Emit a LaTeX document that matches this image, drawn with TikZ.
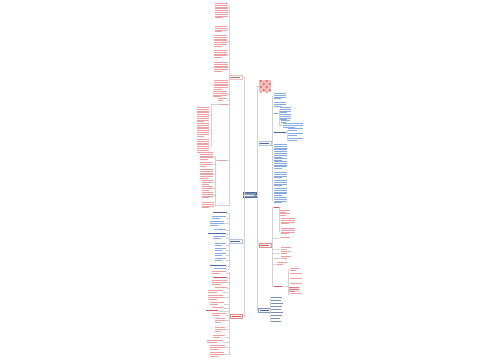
\documentclass[tikz,border=0pt]{standalone}
\usepackage{tikz}
\usetikzlibrary{positioning,patterns}
\definecolor{mmpink}{RGB}{238,160,160}
\definecolor{mmred}{RGB}{205,90,95}
\definecolor{mmblue}{RGB}{135,172,225}
\definecolor{mmdark}{RGB}{75,105,160}
\definecolor{mmroot}{RGB}{120,150,190}

% one block of tiny text lines: x, ytop, width, lines, colour
\newcommand{\mmtext}[5]{%
  \foreach \k in {1,...,#4}{%
    \pgfmathsetmacro{\lw}{(\k==#4 && #4>1) ? 0.6*#3 : #3}%
    \fill[#5] (#1,{#2+(\k-1)*1.8}) rectangle ++(\lw,0.65);
  }}

\begin{document}
\begin{tikzpicture}[x=0.5pt,y=-0.5pt,
    link/.style={gray!35,line width=0.22pt},
    rootbox/.style={fill=mmroot,draw=mmroot!70!black,line width=0.2pt,
      minimum width=6.5pt,minimum height=2.4pt,inner sep=0pt},
    branchbox/.style={fill=#1!8,draw=#1!70,line width=0.2pt,
      minimum width=6pt,minimum height=2pt,inner sep=0pt}]
    \useasboundingbox[fill=white] (0,0) rectangle (500,360);

    % Root and main branches
    \node[rootbox] (root) at (249.5,195) {\textcolor{white}{\rule{5pt}{0.4pt}}};
    \node[branchbox=mmpink] (bL1) at (236,77) {\textcolor{gray}{\rule{4.5pt}{0.35pt}}};
    \node[branchbox=mmblue] (bL2) at (236,241) {\textcolor{mmdark}{\rule{4.5pt}{0.35pt}}};
    \node[branchbox=mmred] (bL3) at (236.5,316) {\textcolor{mmred}{\rule{4.5pt}{0.35pt}}};
    \node[branchbox=mmblue] (bR1) at (265,143) {\textcolor{mmdark}{\rule{4.5pt}{0.35pt}}};
    \node[branchbox=mmred] (bR2) at (265,245) {\textcolor{mmred}{\rule{4.5pt}{0.35pt}}};
    \node[branchbox=mmdark] (bR3) at (264.5,310) {\textcolor{mmdark}{\rule{4.5pt}{0.35pt}}};
    \node[fill=mmpink!70,minimum width=6pt,minimum height=6pt,inner sep=0pt] (img) at (265,86) {};
    \fill[pattern=crosshatch dots,pattern color=mmred] (img.south west) rectangle (img.north east);

    % Trunks
    \coordinate (tl) at (244.5,195);
    \coordinate (tr) at (257.5,195);
    \draw[link] (root.west) -- (tl);
    \draw[link] (root.east) -- (tr);
    \foreach \b in {bL1,bL2,bL3}
        \draw[link] (tl) |- (\b.east);
    \foreach \b in {img,bR1,bR2,bR3}
        \draw[link] (tr) |- (\b.west);

    % Left: first branch
    \draw[link] (bL1.west) -- (229.5,77);
    \draw[link] (229.5,5) -- (229.5,187);
    \foreach \x/\y/\w/\n in {215/3/13/9, 215/26/12/4, 214/35/13/7, 214/50/13/5,
        214/62/14/6, 214/80/14/6, 213/91/14/4, 218/98/9/2}{
        \mmtext{\x}{\y}{\w}{\n}{mmpink}
        \draw[link] (\x+\w+0.5,\y+\n*0.9) -- (229.5,\y+\n*0.9);
    }
    \mmtext{219}{104}{9}{1}{mmpink}
    \draw[link] (228,104.4) -- (229.5,104.4);
    \draw[link] (211.5,104.4) -- (219,104.4);
    \draw[link] (211.5,104.4) -- (211.5,146);
    \foreach \x/\y/\w/\n in {197/107/12/9, 197/123/12/8, 197/139/12/8}{
        \mmtext{\x}{\y}{\w}{\n}{mmpink}
        \draw[link] (\x+\w+0.5,\y+\n*0.9) -- (211.5,\y+\n*0.9);
    }
    \mmtext{217}{160}{9}{1}{mmpink}
    \draw[link] (226,160.4) -- (229.5,160.4);
    \draw[link] (215,160.4) -- (217,160.4);
    \draw[link] (215,156) -- (215,205);
    \draw[link] (215,205) -- (229.5,205) -- (229.5,187);
    \foreach \x/\y/\w/\n in {200/152/13/5, 200/162/12/3, 200/169/13/6, 202/180/11/3,
        202/186/11/3, 202/192/11/4, 202/202/12/4}{
        \mmtext{\x}{\y}{\w}{\n}{mmpink}
        \draw[link] (\x+\w+0.5,\y+\n*0.9) -- (215,\y+\n*0.9);
    }

    % Left: second branch
    \draw[link] (bL2.west) -- (229.5,241);
    \draw[link] (229.5,212.5) -- (229.5,268.5);
    \foreach \x/\y/\w/\n/\c in {213/212/14/1/mmdark, 212/216/14/2/mmblue,
        210/221/14/3/mmblue, 214/229/12/1/mmblue, 208/233/18/1/mmdark,
        213/236/13/2/mmblue, 215/243/11/2/mmblue, 215/248/11/2/mmblue,
        215/253/11/2/mmblue, 215/258/11/2/mmblue, 210/265/16/1/mmdark,
        214/268/12/1/mmblue}{
        \mmtext{\x}{\y}{\w}{\n}{\c}
        \draw[link] (\x+\w+0.5,\y+\n*0.9) -- (229.5,\y+\n*0.9);
    }

    % Left: third branch
    \draw[link] (bL3.west) -- (229.5,316);
    \draw[link] (229.5,272) -- (229.5,354.5);
    \foreach \x/\y/\w/\n/\c in {212/271/14/2/mmpink, 213/277/14/1/mmred,
        212/280/15/3/mmpink, 215/287/12/1/mmpink, 208/290/15/2/mmpink,
        208/295/15/3/mmpink, 210/302/14/2/mmpink, 212/307/12/1/mmpink,
        206/310/12/1/mmred, 212/313/14/2/mmpink, 215/318/10/3/mmpink,
        215/327/10/3/mmpink, 213/335/12/2/mmpink, 207/340/16/2/mmpink,
        210/345/15/3/mmpink, 210/352/14/3/mmpink}{
        \mmtext{\x}{\y}{\w}{\n}{\c}
        \draw[link] (\x+\w+0.5,\y+\n*0.9) -- (229.5,\y+\n*0.9);
    }

    % Right: first branch
    \draw[link] (bR1.east) -- (272.5,143);
    \draw[link] (272.5,96.5) -- (272.5,200.5);
    \foreach \x/\y/\w/\n in {274/93/12/4, 274/102/12/3, 274/144/13/8, 274/158/13/2,
        274/161/13/5, 274/172/13/4, 274/180/13/4, 274/188/13/5, 274/197/13/4}{
        \mmtext{\x}{\y}{\w}{\n}{mmblue}
        \draw[link] (272.5,\y+\n*0.9) -- (\x-0.5,\y+\n*0.9);
    }
    \mmtext{274}{113}{4}{1}{mmblue}
    \draw[link] (272.5,113.4) -- (274,113.4);
    \draw[link] (278,113.4) -- (279,113.4);
    \draw[link] (279,110.5) -- (279,125.5);
    \foreach \x/\y/\w/\n in {280/107/11/4, 280/114/11/4, 281/120/9/2, 283/123/20/3}{
        \mmtext{\x}{\y}{\w}{\n}{mmblue}
        \draw[link] (279,\y+\n*0.9) -- (\x-0.5,\y+\n*0.9);
    }
    \mmtext{274}{132}{12}{1}{mmdark}
    \draw[link] (272.5,132.4) -- (274,132.4);
    \draw[link] (286,132.4) -- (287,132.4);
    \draw[link] (287,129.8) -- (287,139.8);
    \foreach \x/\y/\w/\n in {288/128/15/2, 288/133/15/2, 288/138/15/2}{
        \mmtext{\x}{\y}{\w}{\n}{mmblue}
        \draw[link] (287,\y+\n*0.9) -- (\x-0.5,\y+\n*0.9);
    }

    % Right: second branch
    \draw[link] (bR2.east) -- (272.5,245);
    \draw[link] (272.5,207.4) -- (272.5,287.4);
    \mmtext{274}{207}{5}{1}{mmred}
    \draw[link] (272.5,207.4) -- (274,207.4);
    \draw[link] (279,207.4) -- (279,232);
    \foreach \x/\y/\w/\n in {280/210/10/2, 280/213/10/2, 281/218/14/4, 281/228/14/4}{
        \mmtext{\x}{\y}{\w}{\n}{mmpink}
        \draw[link] (279,\y+\n*0.9) -- (\x-0.5,\y+\n*0.9);
    }
    \foreach \x/\y/\w/\n in {280/237/10/1, 281/247/10/2, 281/251/10/2, 281/256/10/2,
        277/262/10/2}{
        \mmtext{\x}{\y}{\w}{\n}{mmpink}
        \draw[link] (272.5,\y+\n*0.9) -- (\x-0.5,\y+\n*0.9);
    }
    \mmtext{274}{286}{8}{1}{mmred}
    \draw[link] (272.5,286.4) -- (274,286.4);
    \draw[link] (282,286.4) -- (288,286.4);
    \draw[link] (288,269) -- (288,294);
    \foreach \x/\y/\w/\n in {290/268/10/2, 290/273/12/1, 290/278/12/1, 290/283/12/1,
        290/293/12/1}{
        \mmtext{\x}{\y}{\w}{\n}{mmpink}
        \draw[link] (288,\y+\n*0.9) -- (\x-0.5,\y+\n*0.9);
    }
    \fill[mmpink!30] (289,287.2) rectangle (300,292.2);
    \mmtext{289.5}{287.4}{10}{3}{mmred!80}

    % Right: third branch
    \draw[link] (bR3.east) -- (270,310);
    \draw[link] (270,297.4) -- (270,321.4);
    \foreach \y/\w in {297/11, 300/10, 303/12, 306/11, 309/10, 312/12, 315/11, 318/9, 321/10}{
        \mmtext{271}{\y}{\w}{1}{mmdark!75}
        \draw[link] (270,\y+0.4) -- (270.5,\y+0.4);
    }
\end{tikzpicture}
\end{document}
